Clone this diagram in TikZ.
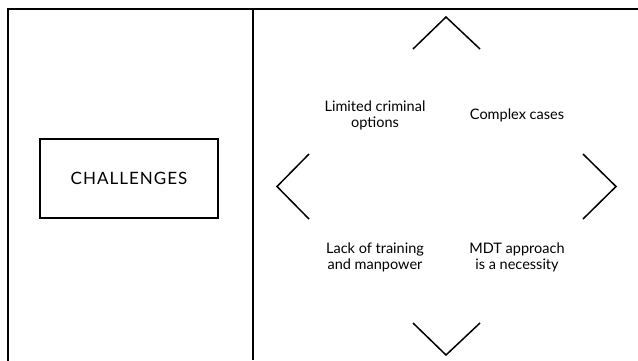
\documentclass[tikz,border=0pt]{standalone}
\usepackage{fontspec}
\setmainfont{Lato}
\begin{document}
\begin{tikzpicture}[x=1pt,y=-1pt,
  frame/.style={line width=2.2pt},
  divider/.style={line width=1.1pt},
  chev/.style={line width=1.5pt},
  box/.style={draw,line width=1.5pt,minimum width=178pt,minimum height=79pt,inner sep=0pt,font=\fontsize{17}{20}\selectfont\addfontfeature{LetterSpace=6}},
  lbl/.style={align=center,font=\fontsize{14.5}{16}\selectfont,inner sep=0pt}]
\useasboundingbox (0,0) rectangle (638,360);
\clip (0,0) rectangle (638,360);
\draw[frame] (8,9) rectangle (660,380);
\draw[divider] (253,9) -- (253,360);
\node[box] (ch) at (129,178.5) {CHALLENGES};
\draw[chev] (413,49) -- (446,17) -- (480,49);
\draw[chev] (413,323) -- (446,355) -- (480,323);
\draw[chev] (309,154) -- (277,186.5) -- (309,219);
\draw[chev] (583,154) -- (616,186.5) -- (583,219);
\node[lbl] (a) at (375,115) {Limited criminal\\options};
\node[lbl] (b) at (517,115) {Complex cases};
\node[lbl] (c) at (375,257) {Lack of training\\and manpower};
\node[lbl] (d) at (517,257) {MDT approach\\is a necessity};
\end{tikzpicture}
\end{document}
